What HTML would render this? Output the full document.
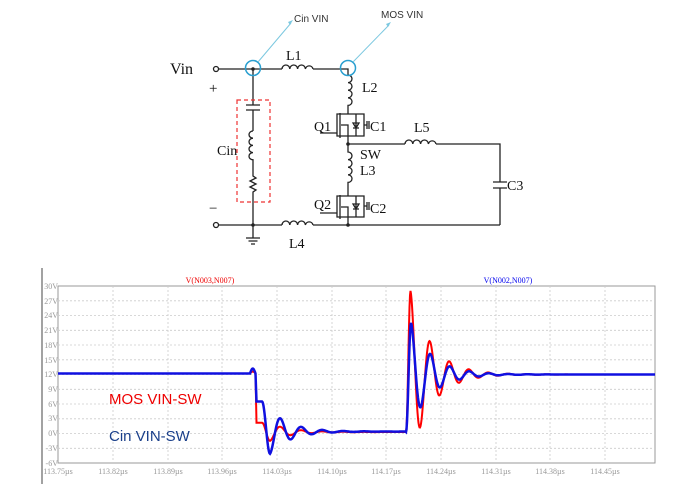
<!DOCTYPE html>
<html><head><style>
html,body{margin:0;padding:0;background:#fff;}
svg{display:block;}
.s{stroke:#222;stroke-width:1.3;fill:none;}
.t{font-family:"Liberation Serif",serif;fill:#111;}
.g{stroke:#ccc;stroke-width:0.8;stroke-dasharray:2,2;}
.ax{font-family:"Liberation Serif",serif;font-size:8px;fill:#999;}
</style></head><body>
<svg width="690" height="484" viewBox="0 0 690 484" xmlns="http://www.w3.org/2000/svg">
<g class="s">
<circle cx="216" cy="69" r="2.5" fill="#fff"/>
<circle cx="216" cy="225" r="2.5" fill="#fff"/>
<path d="M218.5 69H282 M313 69H348V75"/>
<path d="M282 69 a3.9 4 0 0 1 7.8 0 a3.9 4 0 0 1 7.8 0 a3.9 4 0 0 1 7.8 0 a3.9 4 0 0 1 7.6 0"/>
<path d="M348 75 a4 3.8 0 0 1 0 7.6 a4 3.8 0 0 1 0 7.6 a4 3.8 0 0 1 0 7.6 a4 3.8 0 0 1 0 7.6 V114"/>
<path d="M348 114H337V136H348V144 M340 113V138 M320 133H337 M348 114H364V136H348 M341 125H348V136 M356 114V136 M353 128H359 M356 128L353 123H359Z M364 125H367 M367 121V129 M369 121V129"/>
<path d="M348 144H405 M436 144H500V182 M500 188V225 M493 182H507 M493 188H507"/>
<path d="M405 144 a3.9 4 0 0 1 7.8 0 a3.9 4 0 0 1 7.8 0 a3.9 4 0 0 1 7.8 0 a3.9 4 0 0 1 7.6 0"/>
<path d="M348 144V152 a4 3.8 0 0 1 0 7.6 a4 3.8 0 0 1 0 7.6 a4 3.8 0 0 1 0 7.6 a4 3.8 0 0 1 0 7.6 V196"/>
<path d="M348 196H337V217H348V225 M340 195V219 M320 213H337 M348 196H364V217H348 M341 207H348V217 M356 196V217 M353 209H359 M356 209L353 204H359Z M364 206H367 M367 202V210 M369 202V210"/>
<path d="M218.5 225H282 M313 225H500"/>
<path d="M282 225 a3.9 4 0 0 1 7.8 0 a3.9 4 0 0 1 7.8 0 a3.9 4 0 0 1 7.8 0 a3.9 4 0 0 1 7.6 0"/>
<path d="M253 69V105 M246 105H260 M246 110H260 M253 110V131"/>
<path d="M253 131 a4 3.6 0 0 0 0 7.2 a4 3.6 0 0 0 0 7.2 a4 3.6 0 0 0 0 7.2 a4 3.6 0 0 0 0 7.2 V176 l3 2 l-6 3 l6 3 l-6 3 l6 3 l-3 2 V225 V238 M246 238H260 M248.5 241H257.5 M251 244H255"/>
</g>
<circle cx="253" cy="69" r="1.8" fill="#222"/>
<circle cx="348" cy="144" r="1.8" fill="#222"/>
<circle cx="348" cy="225" r="1.8" fill="#222"/>
<circle cx="253" cy="225" r="1.8" fill="#222"/>
<rect x="237" y="100" width="33" height="102" fill="none" stroke="#e33" stroke-width="1.2" stroke-dasharray="4,3"/>
<circle cx="253" cy="68" r="7.5" fill="none" stroke="#2a9fd0" stroke-width="1.5"/>
<circle cx="348" cy="68" r="7.5" fill="none" stroke="#2a9fd0" stroke-width="1.5"/>
<path d="M258 62L291 23 M353 62L389 25" stroke="#7cc8e0" stroke-width="1"/>
<path d="M293 20l-5 2 2 3z M391 22l-5 2 2 3z" fill="#7cc8e0"/>
<text x="294" y="22" font-family="Liberation Sans,sans-serif" font-size="10" fill="#333">Cin VIN</text>
<text x="381" y="18" font-family="Liberation Sans,sans-serif" font-size="10" fill="#333">MOS VIN</text>
<g class="t" font-size="14">
<text x="170" y="74" font-size="16">Vin</text>
<text x="209" y="93" font-size="15">+</text>
<text x="209" y="213" font-size="15">−</text>
<text x="286" y="60">L1</text>
<text x="362" y="92">L2</text>
<text x="314" y="131">Q1</text>
<text x="370" y="131">C1</text>
<text x="414" y="132">L5</text>
<text x="360" y="159">SW</text>
<text x="360" y="175">L3</text>
<text x="314" y="209">Q2</text>
<text x="370" y="213">C2</text>
<text x="507" y="190">C3</text>
<text x="217" y="155">Cin</text>
<text x="289" y="248">L4</text>
</g>
<line x1="42" y1="268" x2="42" y2="484" stroke="#444" stroke-width="1"/>
<rect x="58" y="286" width="597" height="177" fill="#fff" stroke="#999" stroke-width="1"/>
<g class="g">
<path d="M58 300.8H655 M58 315.5H655 M58 330.3H655 M58 345H655 M58 359.8H655 M58 374.5H655 M58 389.3H655 M58 404H655 M58 418.8H655 M58 433.5H655 M58 448.3H655"/>
<path d="M113 286V463 M168 286V463 M222 286V463 M277 286V463 M332 286V463 M386 286V463 M441 286V463 M496 286V463 M550 286V463 M605 286V463"/>
</g>
<g class="ax" text-anchor="end">
<text x="58" y="289">30V</text><text x="58" y="304">27V</text><text x="58" y="318">24V</text><text x="58" y="333">21V</text><text x="58" y="348">18V</text><text x="58" y="363">15V</text><text x="58" y="377">12V</text><text x="58" y="392">9V</text><text x="58" y="407">6V</text><text x="58" y="421">3V</text><text x="58" y="436">0V</text><text x="58" y="451">-3V</text><text x="58" y="466">-6V</text>
</g>
<g class="ax" text-anchor="middle">
<text x="58" y="474">113.75µs</text><text x="113" y="474">113.82µs</text><text x="168" y="474">113.89µs</text><text x="222" y="474">113.96µs</text><text x="277" y="474">114.03µs</text><text x="332" y="474">114.10µs</text><text x="386" y="474">114.17µs</text><text x="441" y="474">114.24µs</text><text x="496" y="474">114.31µs</text><text x="550" y="474">114.38µs</text><text x="605" y="474">114.45µs</text>
</g>
<text x="210" y="283" font-family="Liberation Serif,serif" font-size="8" fill="#e00" text-anchor="middle">V(N003,N007)</text>
<text x="508" y="283" font-family="Liberation Serif,serif" font-size="8" fill="#00e" text-anchor="middle">V(N002,N007)</text>
<polyline id="red" fill="none" stroke="#f00" stroke-width="2" points=""/>
<polyline id="blue" fill="none" stroke="#1010e0" stroke-width="2.5" points=""/>
<text x="109" y="404" font-family="Liberation Sans,sans-serif" font-size="15" fill="#e00">MOS VIN-SW</text>
<text x="109" y="441" font-family="Liberation Sans,sans-serif" font-size="15" fill="#1a3f8a">Cin VIN-SW</text>
</svg>
<script>
function Y(v){return 463-(v+6)*4.917;}
function wave(p){
  var pts=[];
  for(var x=58;x<=655;x+=0.5){
    var v;
    if(x<250) v=12.2;
    else if(x<255.5) v=12.2+p.bump*Math.sin(Math.PI*(x-250)/5.5);
    else if(x<256.5) v=12.2+(p.l1-12.2)*(x-255.5);
    else if(x<262) v=p.l1;
    else if(x<270){var f=(1-Math.cos(Math.PI*(x-262)/8))/2; v=p.l1+(p.c1-p.A1-p.l1)*f;}
    else if(x<406){var d=x-270; v=p.c1-p.A1*Math.exp(-d/20)*Math.cos(2*Math.PI*d/21);}
    else if(x<p.pk){var f=(1-Math.cos(Math.PI*(x-406)/(p.pk-406)))/2; v=0.3+(12+p.A2-0.3)*f;}
    else {var d=x-p.pk; v=12+p.A2*Math.exp(-d/p.tau)*Math.cos(2*Math.PI*d/19.5);}
    pts.push(x.toFixed(1)+","+Y(v).toFixed(1));
  }
  return pts.join(" ");
}
document.getElementById("red").setAttribute("points",wave({bump:0.4,l1:2.2,c1:0.3,A1:1.8,pk:410.5,A2:17,tau:21}));
document.getElementById("blue").setAttribute("points",wave({bump:1.0,l1:6.5,c1:0.4,A1:4.5,pk:411,A2:10.5,tau:21}));
</script>
</body></html>
